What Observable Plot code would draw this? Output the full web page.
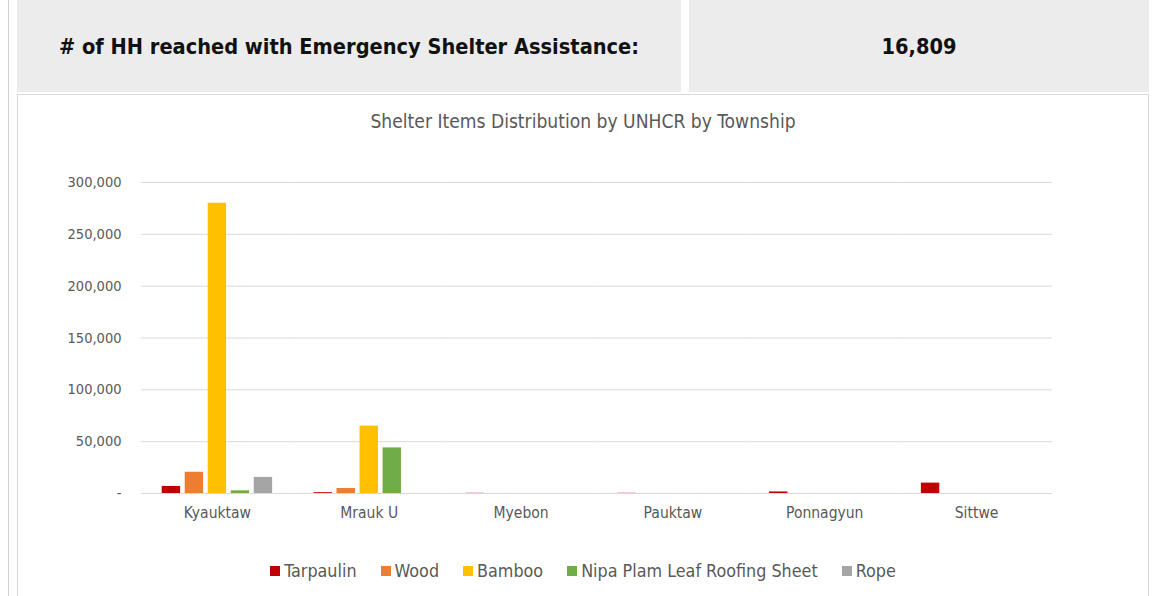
<!DOCTYPE html>
<html>
<head>
<meta charset="utf-8">
<script src="https://cdn.jsdelivr.net/npm/d3@7"></script>
<script src="https://cdn.jsdelivr.net/npm/@observablehq/plot@0.6"></script>
<style>
  html, body { margin: 0; padding: 0; background: #fff; width: 1154px; height: 596px; overflow: hidden; font-family: "DejaVu Sans Condensed", "DejaVu Sans", sans-serif; font-stretch: condensed; }
  #page { position: relative; width: 1154px; height: 596px; }
  .edge { position: absolute; left: 8px; top: 0; width: 1px; height: 596px; background: #d0d0d0; }
  .box { position: absolute; top: 0; height: 92px; background: #ececec; display: flex; align-items: center; justify-content: center; font-weight: bold; font-size: 21.6px; color: #111; }
  #chartbox { position: absolute; left: 17px; top: 94px; width: 1130px; height: 510px; border: 1px solid #d9d9d9; background: #fff; }
  #title { position: absolute; left: 0; width: 1130px; top: 15px; text-align: center; font-size: 19.1px; color: #595959; }
  #plot { position: absolute; left: 0; top: 66px; }
  #legend { position: absolute; left: 0; width: 1130px; top: 465px; display: flex; justify-content: center; gap: 24px; font-size: 17.8px; color: #595959; }
  #legend span.item { display: flex; align-items: center; }
  #legend span.sw { display: inline-block; width: 10px; height: 10px; margin-right: 4px; }
</style>
</head>
<body>
<div id="page">
  <div class="edge"></div>
  <div class="box" style="left:17px; width:664px;">
    <span id="kpiLabel"></span>
  </div>
  <div class="box" style="left:689px; width:460px;">
    <span id="kpiValue"></span>
  </div>
  <div id="chartbox">
    <div id="title"></div>
    <div id="plot"></div>
    <div id="legend"></div>
  </div>
</div>
<script>
const kpiLabel = "# of HH reached with Emergency Shelter Assistance:";
const kpiValue = "16,809";
const chartTitle = "Shelter Items Distribution by UNHCR by Township";

const townships = ["Kyauktaw", "Mrauk U", "Myebon", "Pauktaw", "Ponnagyun", "Sittwe"];
const items = ["Tarpaulin", "Wood", "Bamboo", "Nipa Plam Leaf Roofing Sheet", "Rope"];
const colors = ["#C00000", "#ED7D31", "#FFC000", "#70AD47", "#A5A5A5"];

const tarpaulin = [6800, 800, 200, 200, 1500, 10000];
const wood      = [20500, 4800, 0, 0, 0, 0];
const bamboo    = [280000, 65000, 0, 0, 0, 0];
const nipa      = [2600, 44000, 0, 0, 0, 0];
const rope      = [15500, 0, 0, 0, 0, 0];

const yTicks = [0, 50000, 100000, 150000, 200000, 250000, 300000];

const series = [tarpaulin, wood, bamboo, nipa, rope];
const data = [];
townships.forEach((t, i) => {
  items.forEach((it, j) => {
    data.push({township: t, item: it, value: series[j][i]});
  });
});

document.getElementById("kpiLabel").textContent = kpiLabel;
document.getElementById("kpiValue").textContent = kpiValue;
document.getElementById("title").textContent = chartTitle;

const fontFam = "'DejaVu Sans Condensed', 'DejaVu Sans', sans-serif";
const fmt = d3.format(",");
const chart = Plot.plot({
  width: 1130,
  height: 372,
  marginLeft: 123,
  marginRight: 96,
  marginTop: 21,
  marginBottom: 40,
  style: {fontFamily: fontFam, fontStretch: "condensed", color: "#595959", background: "transparent"},
  fx: {domain: townships, padding: 0, label: null, axis: null, round: false},
  x: {domain: items, axis: null, paddingInner: 0.2, paddingOuter: 0.9, round: false},
  y: {domain: [0, 300000], label: null, axis: null},
  color: {domain: items, range: colors},
  marks: [
    Plot.ruleY(yTicks.slice(1), {stroke: "#d9d9d9", strokeWidth: 1}),
    Plot.barY(data, {fx: "township", x: "item", y: "value", fill: "item"}),
    Plot.ruleY([0], {stroke: "#d9d9d9", strokeWidth: 1}),
    Plot.axisY({ticks: yTicks, tickSize: 0, tickPadding: 20, label: null, fontSize: 14.5,
      tickFormat: d => d === 0 ? "-" : fmt(d)}),
    Plot.axisFx({anchor: "bottom", label: null, tickSize: 0, tickPadding: 13, fontSize: 15.5})
  ]
});
document.getElementById("plot").appendChild(chart);

const legend = document.getElementById("legend");
items.forEach((it, j) => {
  const s = document.createElement("span");
  s.className = "item";
  const sw = document.createElement("span");
  sw.className = "sw";
  sw.style.background = colors[j];
  s.appendChild(sw);
  s.appendChild(document.createTextNode(it));
  legend.appendChild(s);
});
</script>
</body>
</html>
